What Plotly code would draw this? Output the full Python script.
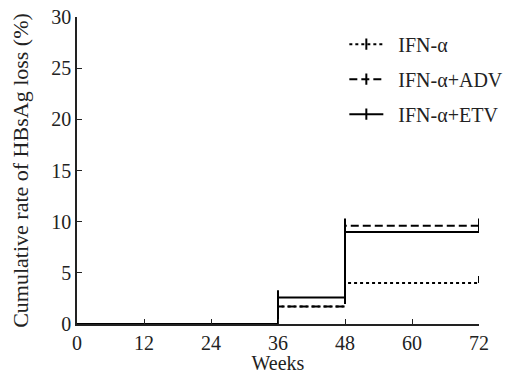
import plotly.graph_objects as go

weeks = [0, 36, 48, 72]
ifn = [0, 1.7, 4.0, 4.0]
ifn_adv = [0, 1.7, 9.6, 9.6]
ifn_etv = [0, 2.6, 9.0, 9.0]
censor_weeks = [36, 48, 72]
x_ticks = [0, 12, 24, 36, 48, 60, 72]
y_ticks = [0, 5, 10, 15, 20, 25, 30]

series = [
    ("IFN-α", ifn, "3px,3px"),
    ("IFN-α+ADV", ifn_adv, "8px,4px"),
    ("IFN-α+ETV", ifn_etv, "solid"),
]
TICK = 0.7
PAD = "\u00a0\u00a0"

fig = go.Figure()
for i, (name, vals, dash) in enumerate(series):
    fig.add_trace(go.Scatter(x=weeks, y=vals, mode="lines", line_shape="hv",
                             line=dict(color="black", width=2, dash=dash),
                             showlegend=False, hoverinfo="skip", cliponaxis=False))
    # censor ticks derived from the data
    cx, cy = [], []
    for t in censor_weeks:
        v = vals[weeks.index(t)]
        cx += [t, t, None]
        cy += [v, v + TICK, None]
    fig.add_trace(go.Scatter(x=cx, y=cy, mode="lines",
                             line=dict(color="black", width=2),
                             showlegend=False, hoverinfo="skip", cliponaxis=False))
    fig.add_trace(go.Scatter(x=[None], y=[None], mode="lines+markers", name=PAD + name,
                             legendgroup=name,
                             line=dict(color="black", width=2, dash=dash),
                             marker=dict(symbol="line-ns", size=8,
                                         line=dict(color="black", width=2))))

axis_common = dict(showline=True, linecolor="#222", linewidth=1.5, ticks="inside",
                   ticklen=5, tickcolor="#222", tickwidth=1.2, showgrid=False,
                   zeroline=False, mirror=False, automargin=False,
                   ticklabeloverflow="allow",
                   tickfont=dict(family="Liberation Serif", size=20, color="#222"))

fig.update_layout(
    width=509, height=366,
    margin=dict(l=69, r=29, t=9, b=50),
    paper_bgcolor="white", plot_bgcolor="white",
    font=dict(family="Liberation Serif", size=20, color="#222"),
    xaxis=dict(range=[0, 72], tickvals=x_ticks,
               title=dict(text="Weeks", font=dict(size=20), standoff=0),
               **axis_common),
    yaxis=dict(range=[0, 30], tickvals=y_ticks,
               title=dict(text="Cumulative rate of HBsAg loss (%)", font=dict(size=22), standoff=17),
               **axis_common),
    legend=dict(x=0.665, y=0.975, xanchor="left", yanchor="top",
                bgcolor="rgba(0,0,0,0)", font=dict(family="Liberation Serif", size=20),
                traceorder="grouped", tracegroupgap=6, itemwidth=34),
    showlegend=True,
)
fig.write_html("out.html", config={"displayModeBar": False})
